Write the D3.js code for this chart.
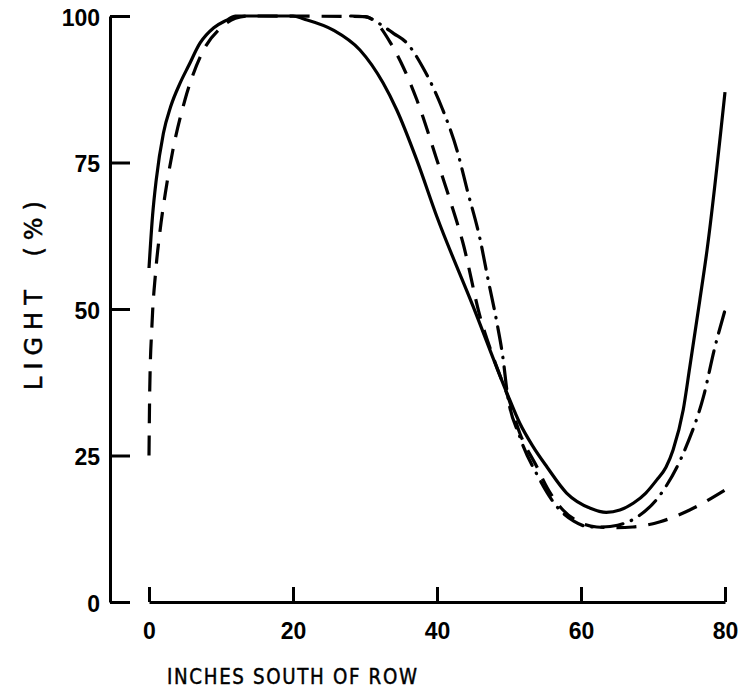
<!DOCTYPE html>
<html>
<head>
<meta charset="utf-8">
<script src="https://cdn.jsdelivr.net/npm/d3@7"></script>
<style>
  body { margin: 0; background: #fff; }
  .tick text { font-family: "Liberation Sans", Arial, sans-serif; font-weight: bold; font-size: 23px; fill: #000; }
  .title { font-family: "DejaVu Sans", sans-serif; fill: #000; stroke: #000; stroke-width: 0.5; }
</style>
</head>
<body>
<svg id="chart" width="739" height="691"></svg>
<script>
// light (%) vs inches south of row, three curves
const solidX = [0, 0.5, 1, 2, 3, 4.3, 5.5, 7.1, 9, 10.8, 12, 20, 21.5, 25.6, 29.3, 32.5, 34.4, 37.2, 40, 45, 49.7, 51.5, 53.3, 55.3, 58, 61.3, 63.5, 65.4, 67.3, 69, 70.5, 71.8, 72.8, 74.2, 75.1, 76.5, 77.5, 80];
const solidY = [57, 66, 72, 80, 84.5, 88.5, 91.5, 95.4, 98, 99.3, 100, 100, 99.5, 97.6, 94.2, 88.6, 84, 75.4, 65.7, 50.5, 35.7, 30.5, 26.6, 23, 18.6, 16, 15.3, 15.7, 16.9, 18.6, 20.8, 23, 26, 32.8, 40, 51.5, 60, 87];

const dashedX = [0, 0.1, 0.4, 0.9, 1.5, 2.3, 3.3, 5, 7.5, 10, 12, 14, 30, 31.6, 33.5, 35.3, 37.2, 40, 41.8, 43.6, 46, 47.8, 50, 51.5, 53.9, 55.3, 57.5, 59.5, 62.2, 65, 67.2, 71, 75.1, 80];
const dashedY = [25, 36, 47, 56, 63, 70, 77, 85.7, 94, 98, 99.6, 100, 99.9, 98.8, 95.5, 91.3, 85.7, 75.4, 68.6, 61.3, 48.6, 41.8, 34.5, 28.8, 23, 19.5, 15.7, 13.8, 12.8, 12.7, 12.8, 13.7, 15.7, 19.1];

const dashDotX = [28, 30, 32, 34, 35.8, 38, 40.8, 42.8, 44.2, 46, 47.1, 48.3, 49.2, 49.7, 51.5, 54, 56.7, 59, 61.3, 63, 65.1, 67.8, 71.3, 74.7, 77, 78.6, 80];
const dashDotY = [100, 99.9, 98.7, 97, 95.4, 91.3, 84, 77, 70.3, 61.8, 55, 47.8, 41.3, 36.2, 28.2, 21.5, 16.2, 13.8, 12.8, 12.8, 13.1, 14.5, 18.8, 26.8, 35, 43.5, 49.8];

const xTicks = [0, 20, 40, 60, 80];
const yTicks = [0, 25, 50, 75, 100];

const svg = d3.select('#chart');

const x = d3.scaleLinear().domain([0, 80]).range([149, 725]);
const y = d3.scaleLinear().domain([0, 100]).range([602, 16]);

// y axis: ticks point inward, labels on the left
const yAxis = svg.append('g')
    .attr('transform', 'translate(110,0)')
    .call(d3.axisLeft(y).tickValues(yTicks).tickSizeInner(-20).tickSizeOuter(0).tickPadding(10));
yAxis.selectAll('line, path').attr('stroke', '#000').attr('stroke-width', 3);
yAxis.selectAll('text').attr('dy', '0.4em');

// x axis: separate baseline, ticks pointing up
const xAxis = svg.append('g')
    .attr('transform', 'translate(0,602)')
    .call(d3.axisBottom(x).tickValues(xTicks).tickSizeInner(-15).tickSizeOuter(0).tickPadding(21));
xAxis.selectAll('line, path').attr('stroke', '#000').attr('stroke-width', 3);

// narrow lettering, squeezed sideways
svg.append('text')
    .attr('class', 'title')
    .attr('transform', 'translate(167,684) scale(0.83,1)')
    .attr('font-size', 22)
    .attr('letter-spacing', 2)
    .text('INCHES SOUTH OF ROW');

svg.append('text')
    .attr('class', 'title')
    .attr('transform', 'translate(42,292) rotate(-90)')
    .attr('text-anchor', 'middle')
    .attr('font-size', 24)
    .attr('letter-spacing', 7)
    .attr('word-spacing', 12)
    .text('LIGHT (%)');

const line = d3.line()
    .x(d => x(d[0]))
    .y(d => y(d[1]))
    .curve(d3.curveMonotoneX);

const series = [
    { xs: solidX, ys: solidY, dash: null, cap: 'butt' },
    { xs: dashedX, ys: dashedY, dash: '20,12', cap: 'butt' },
    { xs: dashDotX, ys: dashDotY, dash: '22,9,0.5,9', cap: 'round' }
];

svg.selectAll('path.curve')
    .data(series)
    .enter()
    .append('path')
    .classed('curve', true)
    .attr('d', s => line(s.xs.map((v, i) => [v, s.ys[i]])))
    .attr('fill', 'none')
    .attr('stroke', '#000')
    .attr('stroke-width', 3.2)
    .attr('stroke-linecap', s => s.cap)
    .attr('stroke-dasharray', s => s.dash);
</script>
</body>
</html>
